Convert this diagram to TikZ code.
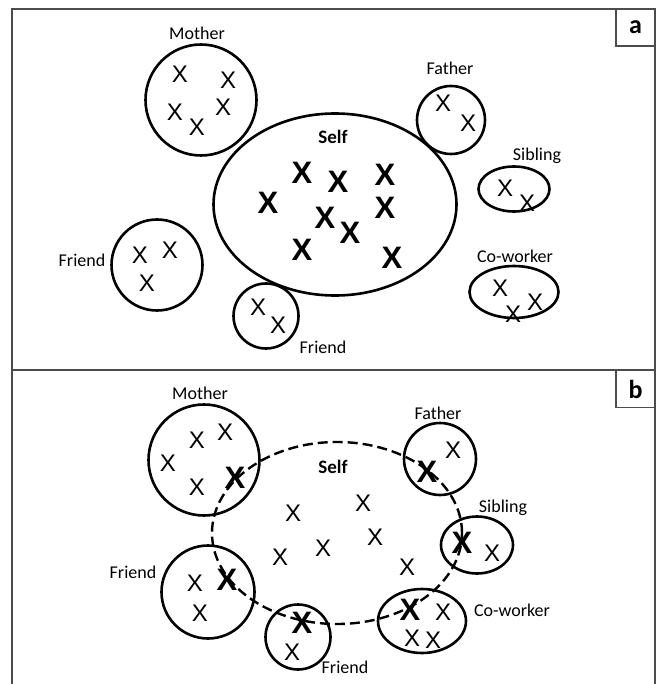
\documentclass[tikz,border=0pt]{standalone}
\usepackage{fontspec}
\setmainfont{Carlito}
\newfontfamily\xfont{Liberation Sans}
\usetikzlibrary{shapes.geometric}
\begin{document}
\begin{tikzpicture}[x=1pt,y=-1pt,
  frame/.style={draw=black!70, line width=1.4pt},
  tagbox/.style={draw=black!70, line width=1.2pt, minimum width=39pt, minimum height=37pt, inner sep=0pt, font=\bfseries\fontsize{26}{28}\selectfont},
  grp/.style={circle, draw, line width=2.6pt, inner sep=0pt},
  egrp/.style={ellipse, draw, line width=2.6pt, inner sep=0pt},
  selfring/.style={ellipse, draw, line width=2.4pt, dash pattern=on 10pt off 5pt, inner sep=0pt},
  lbl/.style={inner sep=0pt, font=\fontsize{18}{20}\selectfont},
  selflbl/.style={inner sep=0pt, font=\bfseries\fontsize{19}{22}\selectfont},
  xs/.style={inner sep=0pt, font=\xfont\fontsize{24}{26}\selectfont},
  xb/.style={inner sep=0pt, font=\xfont\bfseries\fontsize{31}{33}\selectfont}
]
\useasboundingbox (0,0) rectangle (660,684);
% frame
\draw[frame] (12,684) -- (12,9) -- (655,9) -- (655,684);
\draw[frame] (12,370) -- (655,370);
\node[tagbox] (tagA) at (635.5,27.5) {a};
\node[tagbox] (tagB) at (635.5,389) {b};

% ---------------- Panel a ----------------
\node[grp, minimum size=111pt] (aMother) at (201,100) {};
\node[egrp, minimum width=243pt, minimum height=182pt] (aSelf) at (335,204.5) {};
\node[grp, minimum size=68pt] (aFather) at (451,120) {};
\node[egrp, minimum width=71pt, minimum height=45pt] (aSibling) at (514,189) {};
\node[egrp, minimum width=89pt, minimum height=52pt] (aCoworker) at (514,292) {};
\node[grp, minimum size=91pt] (aFriendL) at (157,265) {};
\node[grp, minimum size=65pt] (aFriendB) at (266,316) {};

\node[lbl] (laMother) at (197,33) {Mother};
\node[selflbl] (laSelf) at (333,137) {Self};
\node[lbl] (laFather) at (450,68) {Father};
\node[lbl] (laSibling) at (537,156) {Sibling};
\node[lbl] (laCoworker) at (515,256) {Co-worker};
\node[lbl] (laFriendL) at (82,260) {Friend};
\node[lbl] (laFriendB) at (323,347) {Friend};

% mother X
\node[xs] (am1) at (180,74) {X};
\node[xs] (am2) at (228,80) {X};
\node[xs] (am3) at (175,112) {X};
\node[xs] (am4) at (197,127) {X};
\node[xs] (am5) at (223,107) {X};
% self X (bold)
\node[xb] (as1) at (302,173) {X};
\node[xb] (as2) at (338,182) {X};
\node[xb] (as3) at (385,175) {X};
\node[xb] (as4) at (268,203) {X};
\node[xb] (as5) at (385,208) {X};
\node[xb] (as6) at (325,218) {X};
\node[xb] (as7) at (350,233) {X};
\node[xb] (as8) at (302,250) {X};
\node[xb] (as9) at (392,258) {X};
% father
\node[xs] (af1) at (443,103) {X};
\node[xs] (af2) at (468,123) {X};
% sibling
\node[xs] (asb1) at (505,188) {X};
\node[xs] (asb2) at (527,203) {X};
% coworker
\node[xs] (ac1) at (500,288) {X};
\node[xs] (ac2) at (535,302) {X};
\node[xs] (ac3) at (513,314) {X};
% friend left
\node[xs] (afl1) at (140,255) {X};
\node[xs] (afl2) at (170,250) {X};
\node[xs] (afl3) at (147,283) {X};
% friend bottom
\node[xs] (afb1) at (258,307) {X};
\node[xs] (afb2) at (278,325) {X};

% ---------------- Panel b ----------------
\node[selfring, minimum width=250pt, minimum height=182pt] (bSelf) at (337,533) {};
\node[grp, minimum size=111pt] (bMother) at (204,460) {};
\node[grp, minimum size=72pt] (bFather) at (440,459) {};
\node[egrp, minimum width=72pt, minimum height=57pt] (bSibling) at (477,545) {};
\node[egrp, minimum width=88pt, minimum height=64pt] (bCoworker) at (422,621) {};
\node[grp, minimum size=93pt] (bFriendL) at (208,592) {};
\node[grp, minimum size=65pt] (bFriendB) at (298,637) {};

\node[lbl] (lbMother) at (200,393) {Mother};
\node[selflbl] (lbSelf) at (333,467) {Self};
\node[lbl] (lbFather) at (438,413) {Father};
\node[lbl] (lbSibling) at (503,508) {Sibling};
\node[lbl] (lbCoworker) at (512,610) {Co-worker};
\node[lbl] (lbFriendL) at (133,572) {Friend};
\node[lbl] (lbFriendB) at (345,667) {Friend};

% mother
\node[xs] (bm1) at (197,440) {X};
\node[xs] (bm2) at (225,432) {X};
\node[xs] (bm3) at (168,463) {X};
\node[xs] (bm4) at (197,487) {X};
\node[xb] (bm5) at (235,478) {X};
% father
\node[xb] (bf1) at (427,472) {X};
\node[xs] (bf2) at (453,450) {X};
% sibling
\node[xb] (bsb1) at (462,543) {X};
\node[xs] (bsb2) at (492,553) {X};
% coworker
\node[xb] (bc1) at (410,610) {X};
\node[xs] (bc2) at (443,612) {X};
\node[xs] (bc3) at (412,638) {X};
\node[xs] (bc4) at (433,640) {X};
% friend left
\node[xs] (bfl1) at (195,583) {X};
\node[xb] (bfl2) at (227,580) {X};
\node[xs] (bfl3) at (200,613) {X};
% friend bottom
\node[xb] (bfb1) at (302,623) {X};
\node[xs] (bfb2) at (292,652) {X};
% self
\node[xs] (bs1) at (293,513) {X};
\node[xs] (bs2) at (363,503) {X};
\node[xs] (bs3) at (280,557) {X};
\node[xs] (bs4) at (323,548) {X};
\node[xs] (bs5) at (375,537) {X};
\node[xs] (bs6) at (407,567) {X};
\end{tikzpicture}
\end{document}
